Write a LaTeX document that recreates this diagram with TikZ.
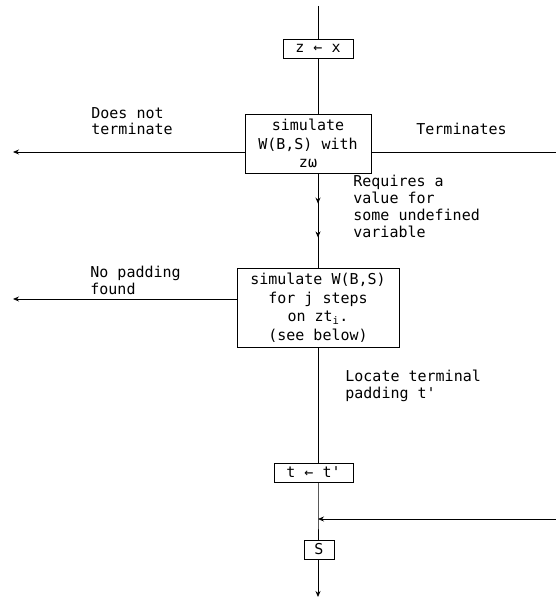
\documentclass[tikz,border=0pt]{standalone}
\usepackage{fontspec}
\setmonofont{DejaVu Sans Mono}
\usetikzlibrary{arrows.meta,decorations.markings}
\begin{document}
\begin{tikzpicture}[x=1pt,y=-1pt,
  font=\ttfamily\fontsize{15}{17}\selectfont,
  every path/.style={line width=0.8pt},
  tip/.style={-{Stealth[length=6pt,width=5pt]}},
  box/.style={draw,line width=0.8pt,inner sep=0pt,align=center,
    font=\ttfamily\fontsize{15}{18.5}\selectfont},
  lbl/.style={align=left,inner sep=0pt,anchor=base west},
  midtips/.style={postaction={decorate},decoration={markings,
     mark=at position 0.32 with {\arrow{Stealth[length=6pt,width=5pt]}},
     mark=at position 0.68 with {\arrow{Stealth[length=6pt,width=5pt]}}}}]
\useasboundingbox (0,0) rectangle (556,599);
\fill[white] (0,0) rectangle (556,599);

\coordinate (top) at (318,6);
\node[box,minimum width=70pt,minimum height=19pt] (zx) at (318,48.5) {z ← x};
\node[box,minimum width=126pt,minimum height=59pt] (sim1) at (308,143.5)
  {simulate\\W(B,S) with\\zω};
\node[box,minimum width=162pt,minimum height=79pt] (sim2) at (318,307.5)
  {simulate W(B,S)\\for j steps\\on zt\textsubscript{i}.\\(see below)};
\node[box,minimum width=79pt,minimum height=19pt] (tt) at (313.5,472.5) {t ← t'};
\node[box,minimum width=30pt,minimum height=19pt] (S) at (319,549.5) {S};
\coordinate (join) at (318,519);
\coordinate (inR) at (556,519);
\coordinate (bot) at (318,597);
\coordinate (dnt) at (13,152);
\coordinate (term) at (556,152);
\coordinate (nopad) at (13,299);

% main flow
\draw (top) -- (zx.north);
\draw (zx.south) -- (zx.south |- sim1.north);
\draw[midtips] (zx.south |- sim1.south) -- (zx.south |- sim2.north);
\draw (zx.south |- sim2.south) -- (zx.south |- tt.north);
\draw (zx.south |- tt.south) -- (join) -- (join |- S.north);
\draw[tip] (join |- S.south) -- (bot);
\draw[tip] (inR) -- (join);

% side exits
\draw[tip] (sim1.west |- dnt) -- (dnt);
\draw (sim1.east |- term) -- (term);
\draw[tip] (sim2.west |- nopad) -- (nopad);

% labels (anchor = baseline of the last line)
\node[lbl] (l1) at (91,135) {Does not\\terminate};
\node[lbl] (l2) at (416,135) {Terminates};
\node[lbl] (l3) at (353,237) {Requires a\\value for\\some undefined\\variable};
\node[lbl] (l4) at (90,294) {No padding\\found};
\node[lbl] (l5) at (345,398) {Locate terminal\\padding t'};
\end{tikzpicture}
\end{document}
